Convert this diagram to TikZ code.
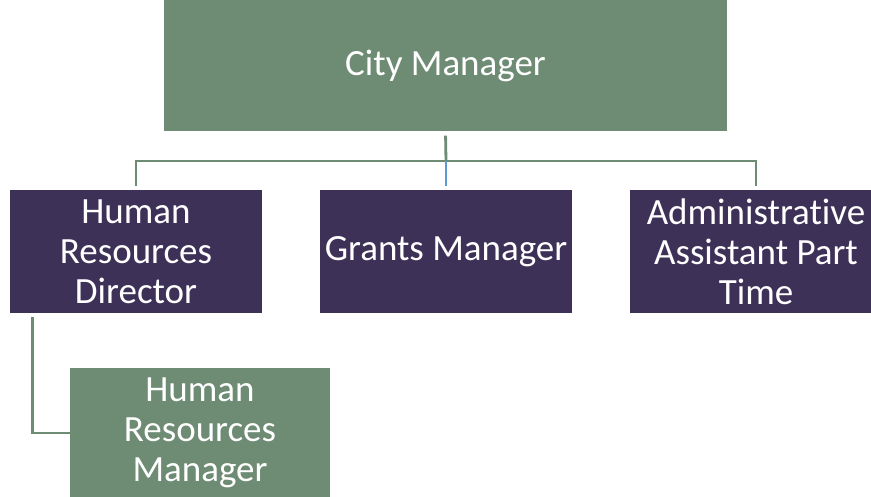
\documentclass[tikz,border=0pt]{standalone}
\usepackage{fontspec}
\setmainfont{Carlito}[Ligatures=CommonOff]
\definecolor{boxgreen}{HTML}{6E8B74}
\definecolor{boxpurple}{HTML}{3E3158}
\definecolor{linkblue}{HTML}{5B9BD5}
\usetikzlibrary{arrows.meta}

\begin{document}
\begin{tikzpicture}[x=1pt, y=-1pt]
\clip (0,0) rectangle (871,497);
\useasboundingbox (0,0) rectangle (871,497);
\fill[white] (0,0) rectangle (871,497);

\begin{scope}[every node/.style={rectangle, inner sep=0pt, align=center, text=white,
                                 font=\fontsize{37}{40}\selectfont}]
    \node (citymgr) at (445.5, 65.75) [fill=boxgreen, minimum width=563pt, minimum height=131.5pt] {City Manager};

    \node (hrdir) at (136, 251.5) [fill=boxpurple, minimum width=252pt, minimum height=123pt] {Human\\Resources\\Director};
    \node (grants) at (446, 251.5) [fill=boxpurple, minimum width=252pt, minimum height=123pt] {Grants Manager};
    \node (admin) at (756, 251.5) [fill=boxpurple, minimum width=252pt, minimum height=123pt] {Administrative\\Assistant Part\\Time};

    \node (hrmgr) at (200, 433) [fill=boxgreen, minimum width=260pt, minimum height=130pt] {Human\\Resources\\Manager};
\end{scope}

\coordinate (bus) at (446, 161);

\begin{scope}[every path/.style={draw=boxgreen, line width=2.8pt}]
    \draw [shorten <=4pt] (citymgr.south) -- (bus);
    \draw [shorten <=4pt, shorten >=4pt] (hrdir.north) |- (bus) -| (admin.north);
    \draw [shorten <=4pt] ([xshift=23pt]hrdir.south west) |- (hrmgr.west);
    \draw [draw=linkblue, shorten >=4pt] (bus) -- (grants.north);
\end{scope}
\end{tikzpicture}
\end{document}
